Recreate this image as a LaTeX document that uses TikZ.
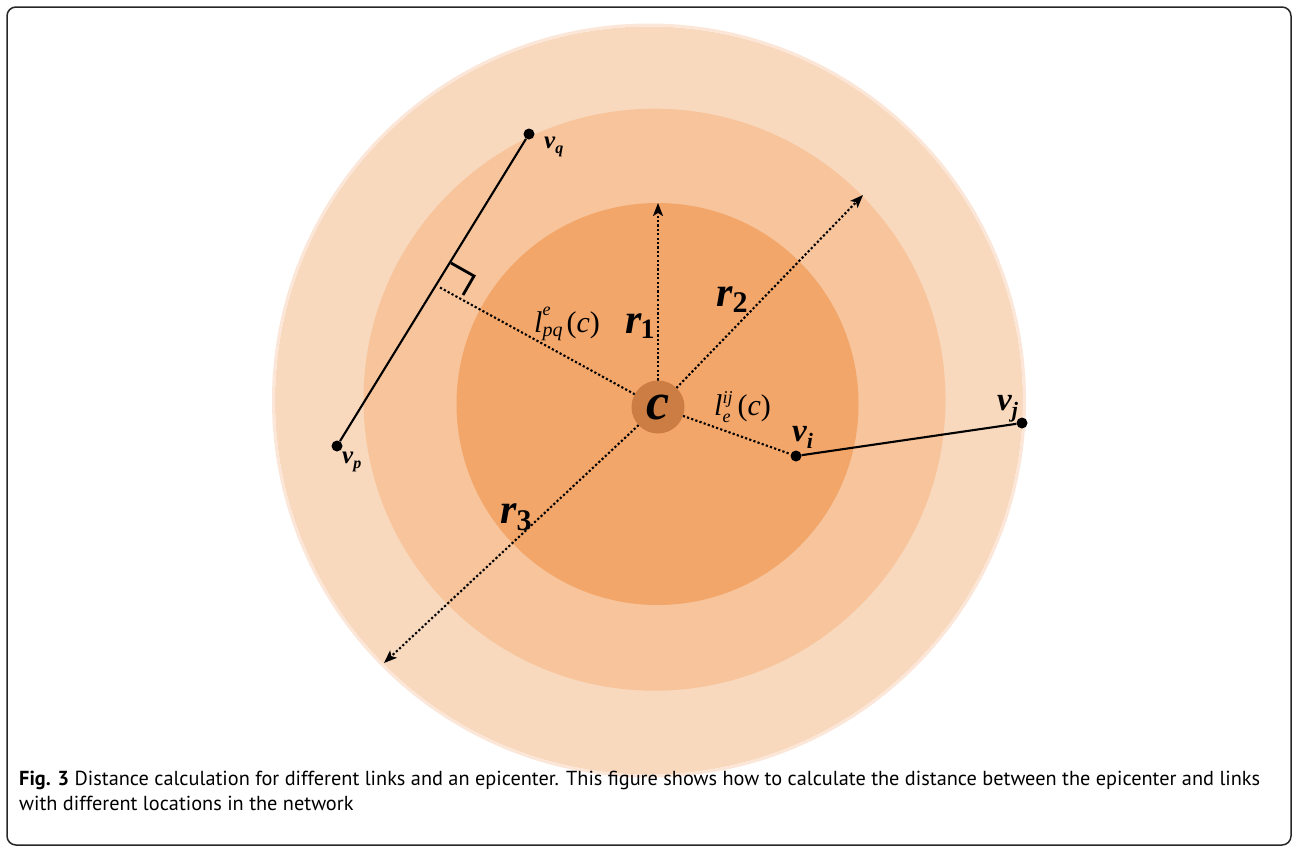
\documentclass[tikz,border=0pt]{standalone}
\usepackage{fontspec}
\setmainfont{Liberation Serif}
\newfontfamily\capfont{PT Sans}
\usetikzlibrary{arrows.meta}
\definecolor{ringA}{HTML}{F9D9BE}
\definecolor{ringArim}{HTML}{FBE6D8}
\definecolor{ringB}{HTML}{F7C49B}
\definecolor{ringC}{HTML}{F3A66A}
\definecolor{cdark}{HTML}{CB7D43}
\tikzset{
  dotline/.style={line width=2.1pt, dash pattern=on 2.2pt off 2.2pt},
  radarrow/.style={dotline, -{Stealth[length=13pt,width=10pt,inset=3pt]}},
  edgeline/.style={line width=2.1pt},
  vdot/.style={circle, fill=black, inner sep=0pt, minimum size=11pt},
  lbl/.style={anchor=base west, inner sep=0pt},
}
\begin{document}
\begin{tikzpicture}[x=1pt,y=-1pt]
\useasboundingbox (0,0) rectangle (1293,847);
\draw[line width=1.5pt, rounded corners=9pt, draw=black!85] (7,7) rectangle (1291,845);
% rings
\fill[ringA] (649,400.5) circle[radius=374pt];
\draw[ringArim, line width=3pt] (649,400.5) circle[radius=375.5pt];
\fill[ringB] (654.5,399.7) circle[radius=291pt];
\fill[ringC] (657.5,404) circle[radius=201pt];
% coordinates
\coordinate (c0) at (658,407);
\coordinate (t1) at (658,203);
\coordinate (t2) at (863,195);
\coordinate (t3) at (384,663);
\coordinate (foot) at (439,287);
\coordinate (ra1) at (451,263);
\coordinate (ra2) at (474,276);
\coordinate (ra3) at (463,295);
% dots
\node[vdot] (vp) at (337,446) {};
\node[vdot] (vq) at (529,134) {};
\node[vdot] (vi) at (796,456) {};
\node[vdot] (vj) at (1022,423) {};
% dotted radii and distances
\draw[radarrow] (c0) -- (t1);
\draw[radarrow] (c0) -- (t2);
\draw[radarrow] (c0) -- (t3);
\draw[dotline] (c0) -- (foot);
\draw[dotline] (c0) -- (vi);
% edges
\draw[edgeline] (vp) -- (vq);
\draw[edgeline] (vi) -- (vj);
\draw[line width=2.8pt] (ra1) -- (ra2) -- (ra3);
% epicenter
\node[circle, fill=cdark, minimum size=53pt, inner sep=0pt] (c) at (c0)
  {\fontsize{52}{52}\selectfont\bfseries\itshape c};
% labels
\node[lbl] (lvq) at (544,148) {\fontsize{25}{25}\selectfont\bfseries\itshape v\raisebox{-5pt}{\fontsize{16}{16}\selectfont q}};
\node[lbl] (lvp) at (342,463) {\fontsize{25}{25}\selectfont\bfseries\itshape v\raisebox{-5pt}{\fontsize{16}{16}\selectfont p}};
\node[lbl] (lvi) at (792,441) {\fontsize{33}{33}\selectfont\bfseries\itshape v\raisebox{-7pt}{\fontsize{22}{22}\selectfont i}};
\node[lbl] (lvj) at (997,410) {\fontsize{33}{33}\selectfont\bfseries\itshape v\raisebox{-7pt}{\fontsize{22}{22}\selectfont j}};
\node[lbl] (lr1) at (625,333) {\fontsize{42}{42}\selectfont\bfseries\itshape r\hspace{-1pt}\raisebox{-5pt}{\fontsize{28}{28}\selectfont\upshape 1}};
\node[lbl] (lr2) at (716,306) {\fontsize{42}{42}\selectfont\bfseries\itshape r\raisebox{-6pt}{\fontsize{30}{30}\selectfont\upshape 2}};
\node[lbl] (lr3) at (500,523) {\fontsize{42}{42}\selectfont\bfseries\itshape r\raisebox{-7pt}{\fontsize{30}{30}\selectfont\upshape 3}};
\node[lbl] (lij) at (714,415) {\fontsize{30}{30}\selectfont\itshape l\rlap{\raisebox{12pt}{\fontsize{18}{18}\selectfont ij}}\raisebox{-7pt}{\fontsize{18}{18}\selectfont e}\hspace{7pt}\upshape(\itshape c\upshape)};
\node[lbl] (lpq) at (534,332) {\fontsize{30}{30}\selectfont\itshape l\rlap{\raisebox{17pt}{\fontsize{18}{18}\selectfont e}}\raisebox{-4pt}{\fontsize{20}{20}\selectfont pq}\hspace{4pt}\upshape(\itshape c\upshape)};
% caption
\node[anchor=base west, inner sep=0pt, align=left, font={\capfont\fontsize{20.3}{25}\selectfont}] (cap) at (19,810)
  {\textbf{Fig. 3} Distance calculation for different links and an epicenter. This figure shows how to calculate the distance between the epicenter and links\\with different locations in the network};
\end{tikzpicture}
\end{document}
